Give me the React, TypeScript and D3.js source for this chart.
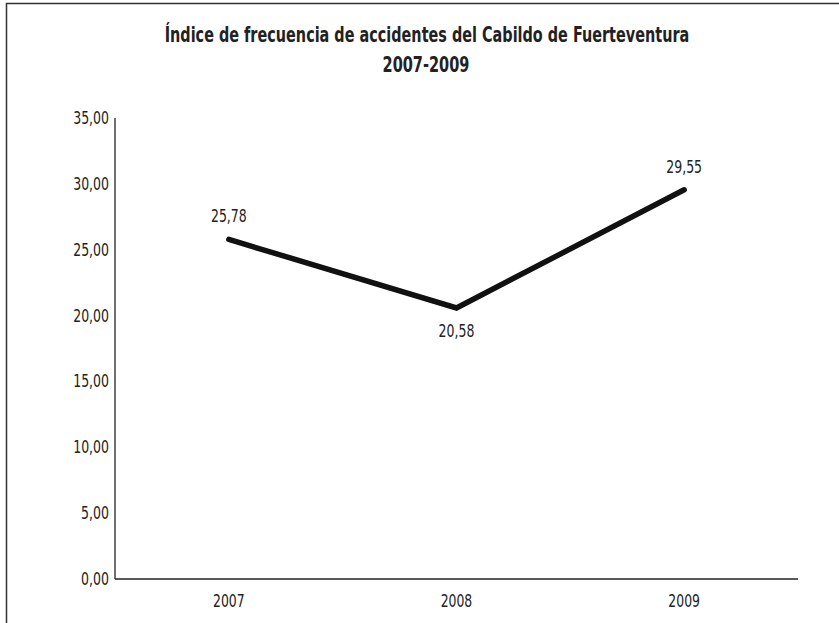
import React, { useEffect, useRef } from "react";
import * as d3 from "d3";

const years = ["2007", "2008", "2009"];
const values = [25.78, 20.58, 29.55];
const yTicks = [0, 5, 10, 15, 20, 25, 30, 35];
const labelBelow = [false, true, false];
const titleLines = ["Índice de frecuencia de accidentes del Cabildo de Fuerteventura", "2007-2009"];

const FONT = "'DejaVu Sans Condensed', 'Liberation Sans Narrow', sans-serif";
const fmt = (d: number) => d.toFixed(2).replace(".", ",");
// the reference uses a narrow face: digits ~7.9px, comma ~4.2px
const textWidth = (s: string) =>
  s.split("").reduce((acc, c) => acc + (c === "," ? 4.2 : 7.9), 0);

// squeeze a text horizontally around its anchor x to a target width
function squeeze(node: SVGTextElement, target: number) {
  const len = node.getComputedTextLength();
  if (!len) return;
  const s = target / len;
  const x = +(node.getAttribute("x") || 0);
  node.setAttribute("transform", `translate(${x},0) scale(${s},1) translate(${-x},0)`);
}

const App = () => {
  const svgRef = useRef<SVGSVGElement>(null);

  useEffect(() => {
    const w = 839;
    const h = 623;
    const margin = { top: 118, right: 41, bottom: 44, left: 115 };
    const svg = d3.select(svgRef.current).attr("width", w).attr("height", h);
    svg.selectAll("*").remove();

    // outer frame (runs off the right and bottom edges)
    svg
      .append("rect")
      .attr("x", 6.5)
      .attr("y", 3.5)
      .attr("width", 900)
      .attr("height", 700)
      .attr("fill", "white")
      .attr("stroke", "#333")
      .attr("stroke-width", 1.5);

    const titleWidths = [525, 87];
    svg
      .selectAll(".title")
      .data(titleLines)
      .enter()
      .append("text")
      .attr("x", (_, i) => (i === 0 ? 427 : 426))
      .attr("y", (_, i) => (i === 0 ? 42 : 72))
      .attr("text-anchor", "middle")
      .attr("font-family", FONT)
      .attr("font-weight", "bold")
      .attr("font-size", 21)
      .attr("fill", "#222")
      .text((d) => d)
      .each(function (_, i) {
        squeeze(this as SVGTextElement, titleWidths[i]);
      });

    const x = d3
      .scalePoint<string>()
      .domain(years)
      .range([margin.left, w - margin.right])
      .padding(0.5);
    const y = d3
      .scaleLinear()
      .domain([0, 35])
      .range([h - margin.bottom, margin.top]);

    const g = svg.append("g");

    // axes
    g.append("line")
      .attr("x1", margin.left)
      .attr("x2", margin.left)
      .attr("y1", y(35))
      .attr("y2", y(0))
      .attr("stroke", "#222")
      .attr("stroke-width", 1.3);
    g.append("line")
      .attr("x1", margin.left)
      .attr("x2", w - margin.right)
      .attr("y1", y(0))
      .attr("y2", y(0))
      .attr("stroke", "#222")
      .attr("stroke-width", 1.3);

    const txt = (sel: any) =>
      sel
        .attr("font-family", FONT)
        .attr("font-size", 17)
        .attr("fill", "#222")
        .attr("dy", "0.35em");

    const fit = (sel: any) =>
      sel.each(function (this: SVGTextElement) {
        squeeze(this, textWidth(this.textContent || ""));
      });

    g.selectAll(".ytick")
      .data(yTicks)
      .enter()
      .append("text")
      .attr("x", margin.left - 6)
      .attr("y", (d) => y(d))
      .attr("text-anchor", "end")
      .call(txt)
      .text((d) => fmt(d))
      .call(fit);

    g.selectAll(".xtick")
      .data(years)
      .enter()
      .append("text")
      .attr("x", (d) => x(d)!)
      .attr("y", y(0) + 22)
      .attr("text-anchor", "middle")
      .call(txt)
      .text((d) => d)
      .call(fit);

    const line = d3
      .line<number>()
      .x((_, i) => x(years[i])!)
      .y((d) => y(d));

    g.append("path")
      .datum(values)
      .attr("d", line)
      .attr("fill", "none")
      .attr("stroke", "#111")
      .attr("stroke-width", 5.5)
      .attr("stroke-linecap", "round")
      .attr("stroke-linejoin", "miter");

    g.selectAll(".vlabel")
      .data(values)
      .enter()
      .append("text")
      .attr("x", (_, i) => x(years[i])!)
      .attr("y", (d, i) => y(d) + (labelBelow[i] ? 23 : -23))
      .attr("text-anchor", "middle")
      .call(txt)
      .text((d) => fmt(d))
      .call(fit);
  }, []);

  return (
    <div style={{ position: "absolute", left: 0, top: 0 }}>
      <svg ref={svgRef} style={{ display: "block" }}></svg>
    </div>
  );
};

export default App;
